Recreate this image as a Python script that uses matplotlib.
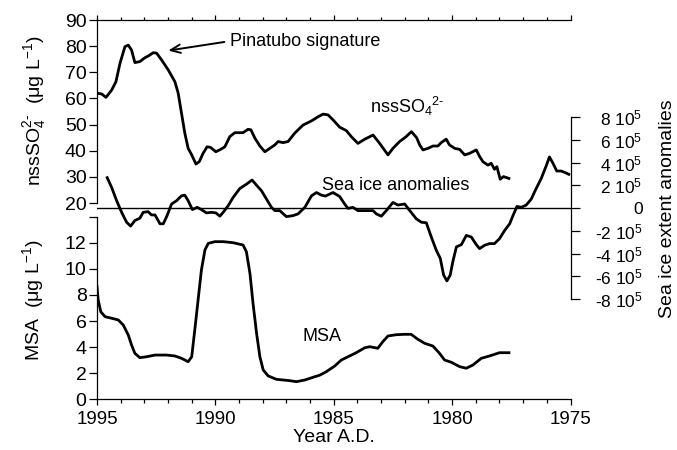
import matplotlib
matplotlib.use("Agg")
import matplotlib.pyplot as plt
from matplotlib.ticker import MultipleLocator

plt.rcParams['font.family'] = ['Liberation Sans', 'DejaVu Sans']
plt.rcParams['mathtext.fontset'] = 'custom'
plt.rcParams['mathtext.rm'] = 'Liberation Sans'
plt.rcParams['mathtext.it'] = 'Liberation Sans:italic'
plt.rcParams['mathtext.bf'] = 'Liberation Sans:bold'
plt.rcParams['mathtext.default'] = 'rm'

# ---------------- data ----------------
nss_years = [1995.00, 1994.80, 1994.62, 1994.38, 1994.20, 1994.03, 1993.82, 1993.68, 1993.54, 1993.40,
             1993.19, 1992.97, 1992.84, 1992.62, 1992.48, 1992.27, 1991.99, 1991.71, 1991.57, 1991.43,
             1991.29, 1991.15, 1991.00, 1990.82, 1990.68, 1990.52, 1990.35, 1990.21, 1989.98, 1989.78,
             1989.60, 1989.39, 1989.18, 1988.83, 1988.62, 1988.50, 1988.33, 1988.12, 1987.91, 1987.70,
             1987.49, 1987.35, 1987.14, 1986.93, 1986.65, 1986.30, 1985.94, 1985.66, 1985.45, 1985.24,
             1985.03, 1984.75, 1984.47, 1984.26, 1983.98, 1983.69, 1983.34, 1983.06, 1982.71, 1982.50,
             1982.22, 1981.94, 1981.72, 1981.50, 1981.37, 1981.23, 1981.02, 1980.81, 1980.60, 1980.46,
             1980.25, 1980.11, 1979.89, 1979.68, 1979.47, 1979.26, 1978.98, 1978.84, 1978.70, 1978.49,
             1978.35, 1978.21, 1978.11, 1977.97, 1977.83, 1977.60]
nss_values = [62.0, 61.7, 60.4, 63.2, 66.4, 73.4, 79.8, 80.4, 78.5, 73.7,
              74.1, 75.6, 76.2, 77.5, 77.3, 74.7, 70.9, 66.4, 62.0, 54.3,
              46.7, 40.9, 38.4, 34.9, 35.8, 39.0, 41.5, 41.3, 39.6, 40.5,
              41.5, 45.4, 46.9, 46.9, 48.2, 48.0, 44.8, 41.8, 39.6, 40.9,
              42.2, 43.5, 43.1, 43.5, 46.7, 49.8, 51.4, 53.0, 54.0, 53.7,
              51.8, 49.0, 47.7, 45.4, 42.8, 44.4, 46.0, 42.8, 38.4, 40.9,
              43.5, 45.4, 47.3, 45.0, 42.2, 40.3, 40.9, 41.8, 41.8, 43.1,
              44.4, 42.2, 40.9, 40.5, 38.4, 39.0, 40.3, 37.8, 35.8, 34.5,
              35.2, 32.9, 33.9, 29.1, 30.1, 29.4]

ice_years = [1994.57, 1994.38, 1994.17, 1993.96, 1993.75, 1993.58, 1993.40, 1993.19, 1993.05, 1992.84,
             1992.70, 1992.55, 1992.34, 1992.20, 1992.04, 1991.85, 1991.64, 1991.43, 1991.29, 1991.15,
             1990.97, 1990.77, 1990.59, 1990.38, 1990.16, 1989.98, 1989.81, 1989.67, 1989.46, 1989.25,
             1988.97, 1988.69, 1988.45, 1988.26, 1988.05, 1987.84, 1987.63, 1987.49, 1987.28, 1987.00,
             1986.72, 1986.51, 1986.22, 1985.94, 1985.73, 1985.52, 1985.35, 1985.03, 1984.75, 1984.54,
             1984.40, 1984.19, 1983.98, 1983.69, 1983.34, 1983.20, 1982.99, 1982.78, 1982.50, 1982.29,
             1982.00, 1981.79, 1981.51, 1981.30, 1981.09, 1980.88, 1980.67, 1980.50, 1980.36, 1980.22,
             1980.08, 1979.97, 1979.82, 1979.61, 1979.40, 1979.19, 1978.98, 1978.84, 1978.63, 1978.42,
             1978.21, 1978.00, 1977.78, 1977.57, 1977.43, 1977.26, 1977.08, 1976.87, 1976.66, 1976.45,
             1976.24, 1976.03, 1975.89, 1975.75, 1975.58, 1975.39, 1975.21, 1975.07]
ice_values_e5 = [2.67, 1.80, 0.64, -0.38, -1.25, -1.59, -1.10, -0.90, -0.38, -0.32,
                 -0.61, -0.61, -1.39, -1.39, -0.67, 0.35, 0.64, 1.07, 1.13, 0.64,
                 -0.14, 0.06, -0.14, -0.43, -0.38, -0.43, -0.72, -0.38, 0.20, 0.93,
                 1.71, 2.09, 2.46, 2.00, 1.51, 0.78, 0.06, -0.23, -0.23, -0.76,
                 -0.67, -0.52, 0.06, 1.07, 1.36, 1.13, 1.05, 1.36, 1.01, 0.35,
                 -0.03, 0.06, -0.23, -0.23, -0.23, -0.52, -0.72, -0.23, 0.49, 0.26,
                 0.35, -0.23, -0.96, -1.25, -1.30, -2.55, -3.71, -4.43, -5.89, -6.41,
                 -5.89, -4.72, -3.42, -3.22, -2.41, -2.55, -3.22, -3.57, -3.28, -3.13,
                 -3.13, -2.70, -1.97, -1.39, -0.67, 0.14, 0.06, 0.26, 0.78, 1.71,
                 2.58, 3.68, 4.49, 3.97, 3.25, 3.25, 3.10, 2.96]

msa_years = [1995.00, 1994.95, 1994.84, 1994.66, 1994.38, 1994.10, 1993.89, 1993.68, 1993.54, 1993.40,
             1993.19, 1992.91, 1992.55, 1992.06, 1991.71, 1991.43, 1991.15, 1991.00, 1990.87, 1990.73,
             1990.59, 1990.44, 1990.30, 1990.02, 1989.67, 1989.25, 1988.83, 1988.69, 1988.54, 1988.41,
             1988.26, 1988.12, 1987.98, 1987.77, 1987.42, 1986.86, 1986.58, 1986.22, 1985.87, 1985.59,
             1985.31, 1984.96, 1984.68, 1984.40, 1984.05, 1983.69, 1983.48, 1983.14, 1982.93, 1982.71,
             1982.36, 1982.00, 1981.73, 1981.45, 1981.16, 1980.81, 1980.53, 1980.32, 1980.04, 1979.68,
             1979.40, 1979.12, 1978.77, 1978.42, 1978.00, 1977.60]
msa_values = [8.63, 7.61, 6.71, 6.33, 6.21, 6.08, 5.69, 4.93, 4.16, 3.52,
              3.19, 3.26, 3.39, 3.39, 3.32, 3.14, 2.88, 3.26, 5.31, 7.61,
              9.91, 11.45, 11.95, 12.08, 12.08, 12.00, 11.82, 11.31, 9.65, 7.36,
              5.06, 3.26, 2.25, 1.79, 1.53, 1.43, 1.35, 1.48, 1.69, 1.85,
              2.12, 2.55, 3.01, 3.26, 3.57, 3.95, 4.03, 3.91, 4.41, 4.85,
              4.95, 4.98, 4.98, 4.60, 4.29, 4.08, 3.52, 3.01, 2.84, 2.50,
              2.38, 2.63, 3.14, 3.32, 3.57, 3.57]

x_ticks = [1995, 1990, 1985, 1980, 1975]
nss_ticks = [20, 30, 40, 50, 60, 70, 80, 90]
msa_ticks = [0, 2, 4, 6, 8, 10, 12, 14]
msa_tick_labels = ['0', '2', '4', '6', '8', '10', '12', '']
ice_ticks = [-8, -6, -4, -2, 0, 2, 4, 6, 8]
ice_tick_labels = ['-8 10$^5$', '-6 10$^5$', '-4 10$^5$', '-2 10$^5$', '0',
                   '2 10$^5$', '4 10$^5$', '6 10$^5$', '8 10$^5$']

# ---------------- figure ----------------
W_PX, H_PX = 677, 450
fig = plt.figure(figsize=(W_PX / 100, H_PX / 100), dpi=100)

L = 97 / W_PX
Wd = (570.5 - 97) / W_PX
ax_top = fig.add_axes([L, 1 - 203 / H_PX, Wd, 183 / H_PX])
ax_msa = fig.add_axes([L, 1 - 399.3 / H_PX, Wd, (399.3 - 216.6) / H_PX])
ax_ice = fig.add_axes([L, 1 - 299 / H_PX, Wd, 182 / H_PX])

LW = 2.0
FS_TEXT = 13
FS_LAB = 14
FS_YT = 14
FS_XT = 13.5
FS_RT = 12.5
for ax in (ax_top, ax_msa, ax_ice):
    ax.set_facecolor('none')
    ax.set_xlim(1995, 1975)
    for s in ax.spines.values():
        s.set_linewidth(0.9)

# top axis: nssSO4
ax_top.plot(nss_years, nss_values, color='black', lw=LW, solid_joinstyle='round')
ax_top.set_ylim(20, 90)
ax_top.set_yticks(nss_ticks)
ax_top.spines['bottom'].set_visible(False)
ax_top.spines['right'].set_visible(False)
ax_top.xaxis.set_major_locator(MultipleLocator(5))
ax_top.xaxis.set_minor_locator(MultipleLocator(1))
ax_top.tick_params(axis='x', which='both', top=True, bottom=False, labeltop=False,
                   labelbottom=False, direction='out')
ax_top.tick_params(axis='x', which='major', length=3.8, width=0.9)
ax_top.tick_params(axis='x', which='minor', length=2.2, width=0.9)
ax_top.tick_params(axis='y', length=6, width=0.9, pad=1.5, labelsize=FS_YT)

# bottom axis: MSA
ax_msa.plot(msa_years, msa_values, color='black', lw=LW, solid_joinstyle='round')
ax_msa.set_ylim(0, 14)
ax_msa.set_yticks(msa_ticks)
ax_msa.set_yticklabels(msa_tick_labels)
ax_msa.spines['top'].set_visible(False)
ax_msa.spines['right'].set_visible(False)
ax_msa.set_xticks(x_ticks)
ax_msa.set_xticklabels([str(v) for v in x_ticks])
ax_msa.xaxis.set_minor_locator(MultipleLocator(1))
ax_msa.tick_params(axis='x', which='major', length=4.5, width=0.9, pad=4, labelsize=FS_XT)
ax_msa.tick_params(axis='x', which='minor', length=2.8, width=0.9)
ax_msa.tick_params(axis='y', length=6, width=0.9, pad=1.5, labelsize=FS_YT)
ax_msa.set_xlabel('Year A.D.', fontsize=FS_LAB, labelpad=1)

# sea ice axis
ax_ice.plot(ice_years, ice_values_e5, color='black', lw=LW, solid_joinstyle='round')
ax_ice.axhline(0, color='black', lw=1.0)
ax_ice.set_ylim(-8, 8)
ax_ice.set_yticks(ice_ticks)
ax_ice.set_yticklabels(ice_tick_labels)
for side in ('top', 'bottom', 'left'):
    ax_ice.spines[side].set_visible(False)
ax_ice.set_xticks([])
ax_ice.yaxis.tick_right()
ax_ice.tick_params(axis='y', length=6.5, width=0.9, pad=45.5, labelsize=FS_RT)
for lab in ax_ice.get_yticklabels():
    lab.set_horizontalalignment('right')

# in-plot texts
ax_top.annotate('', xy=(1991.99, 78.3), xytext=(1989.62, 81.6),
                arrowprops=dict(arrowstyle='->,head_length=0.7,head_width=0.3',
                                color='black', lw=1.4, shrinkA=0, shrinkB=0))
ax_top.text(1989.39, 80.2, 'Pinatubo signature', fontsize=FS_TEXT, ha='left', va='baseline')
ax_top.text(1983.48, 54.4, 'nssSO$_4$$^{2\u2010}$', fontsize=FS_TEXT, ha='left', va='baseline')
ax_ice.text(1985.48, 1.59, 'Sea ice anomalies', fontsize=FS_TEXT, ha='left', va='baseline')
ax_msa.text(1986.31, 4.49, 'MSA', fontsize=FS_TEXT, ha='left', va='baseline')

# axis titles
fig.text(35 / W_PX, 1 - 111 / H_PX, 'nssSO$_4^{2\u2010}$  (\u03bcg L$^{-1}$)', rotation=90,
         ha='center', va='center', fontsize=FS_LAB)
fig.text(33 / W_PX, 1 - 300 / H_PX, 'MSA  (\u03bcg L$^{-1}$)', rotation=90,
         ha='center', va='center', fontsize=FS_LAB)
fig.text(667 / W_PX, 1 - 209 / H_PX, 'Sea ice extent anomalies', rotation=90,
         ha='center', va='center', fontsize=FS_LAB)

fig.savefig('out.png', dpi=100)
